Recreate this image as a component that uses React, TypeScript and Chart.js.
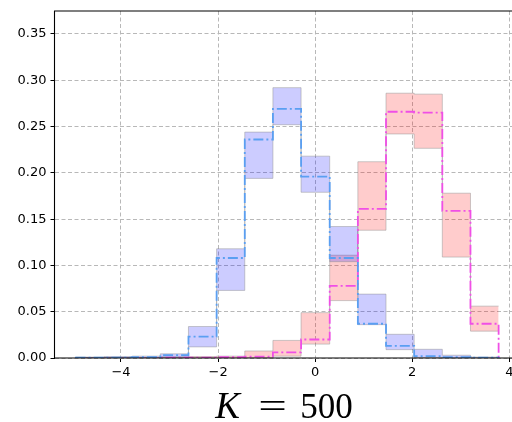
import React, { useEffect, useRef } from "react";
import { Chart, registerables } from "chart.js";

Chart.register(...registerables);

// Histogram bin edges (15 bins)
const binEdges = [-4.93, -4.35, -3.77, -3.19, -2.61, -2.03, -1.45, -0.87, -0.29, 0.3, 0.88, 1.46, 2.04, 2.62, 3.2, 3.78];

// Blue series: mean and band
const blueMean = [0.0003, 0.0005, 0.001, 0.003, 0.023, 0.108, 0.236, 0.269, 0.196, 0.108, 0.037, 0.013, 0.002, 0.001, 0.0005];
const blueLow = [0, 0, 0.0003, 0.001, 0.012, 0.073, 0.194, 0.252, 0.179, 0.104, 0.036, 0.009, 0.0005, 0, 0];
const blueHigh = [0.001, 0.0015, 0.002, 0.0045, 0.034, 0.118, 0.244, 0.292, 0.218, 0.142, 0.069, 0.0256, 0.0094, 0.003, 0.001];

// Pink series: mean and band
const pinkMean = [0.0002, 0.0002, 0.0002, 0.0003, 0.0005, 0.0008, 0.0014, 0.006, 0.02, 0.078, 0.161, 0.266, 0.265, 0.159, 0.037];
const pinkLow = [0, 0, 0, 0, 0, 0, 0, 0.002, 0.015, 0.062, 0.138, 0.242, 0.2265, 0.109, 0.029];
const pinkHigh = [0.0005, 0.0005, 0.0005, 0.001, 0.0015, 0.002, 0.0076, 0.019, 0.049, 0.111, 0.212, 0.286, 0.285, 0.178, 0.056];

const xTickValues = [-4, -2, 0, 2, 4];
const yTickValues = [0, 0.05, 0.1, 0.15, 0.2, 0.25, 0.3, 0.35];
const titleParts = ["K", "=", "500"];

const X_MIN = -5.37;
const X_MAX = 4.138;
const Y_MIN = 0;
const Y_MAX = 0.3748;

function stepLine(vals: number[]) {
  const last = binEdges.length - 1;
  const pts: { x: number; y: number }[] = [{ x: binEdges[0], y: 0 }];
  vals.forEach((v, i) => pts.push({ x: binEdges[i], y: v }));
  pts.push({ x: binEdges[last], y: vals[vals.length - 1] });
  pts.push({ x: binEdges[last], y: 0 });
  return pts;
}

function bandLine(vals: number[]) {
  const last = binEdges.length - 1;
  const pts: { x: number; y: number }[] = [];
  vals.forEach((v, i) => pts.push({ x: binEdges[i], y: v }));
  pts.push({ x: binEdges[last], y: vals[vals.length - 1] });
  return pts;
}

const fmtX = (v: number) => (v < 0 ? "\u2212" + Math.abs(v) : String(v));

export default function App() {
  const ref = useRef<HTMLCanvasElement | null>(null);

  useEffect(() => {
    document.body.style.margin = "0";
    const canvas = ref.current!;
    const bandEdge = "rgba(140,140,140,0.45)";

    const framePlugin = {
      id: "frame",
      afterDatasetsDraw(chart: any) {
        const { ctx, chartArea: a } = chart;
        ctx.save();
        ctx.strokeStyle = "#000";
        ctx.lineWidth = 1.1;
        ctx.setLineDash([]);
        ctx.beginPath();
        ctx.moveTo(a.right, a.top);
        ctx.lineTo(a.left, a.top);
        ctx.lineTo(a.left, a.bottom);
        ctx.lineTo(a.right, a.bottom);
        ctx.lineTo(a.right, a.top);
        ctx.stroke();
        ctx.restore();
      },
      afterDraw(chart: any) {
        const { ctx, chartArea: a } = chart;
        const cx = (a.left + a.right) / 2;
        const base = 418;
        ctx.save();
        ctx.fillStyle = "#000";
        ctx.textAlign = "left";
        ctx.textBaseline = "alphabetic";
        ctx.font = 'italic 37px "Liberation Serif"';
        ctx.fillText(titleParts[0], cx - 70, base);
        ctx.font = '35px "Liberation Serif"';
        ctx.save();
        ctx.translate(cx - 27, base);
        ctx.scale(1.45, 1);
        ctx.fillText(titleParts[1], 0, 0);
        ctx.restore();
        ctx.fillText(titleParts[2], cx + 15, base);
        ctx.restore();
      },
    };

    const common = { stepped: "before", pointRadius: 0 };

    const chart = new Chart(canvas, {
      type: "line",
      data: {
        datasets: [
          {
            ...common,
            data: stepLine(blueMean),
            borderColor: "#5a9ff2",
            borderWidth: 1.8,
            borderDash: [10, 3, 2, 3],
            fill: false,
            order: 0,
          },
          {
            ...common,
            data: stepLine(pinkMean),
            borderColor: "#f04fe6",
            borderWidth: 1.8,
            borderDash: [10, 3, 2, 3],
            fill: false,
            order: 0,
          },
          {
            ...common,
            data: bandLine(blueLow),
            borderColor: bandEdge,
            borderWidth: 1,
            fill: false,
            order: 1,
          },
          {
            ...common,
            data: bandLine(blueHigh),
            borderColor: bandEdge,
            borderWidth: 1,
            fill: { target: 2 },
            backgroundColor: "rgba(0,0,255,0.2)",
            order: 1,
          },
          {
            ...common,
            data: bandLine(pinkLow),
            borderColor: bandEdge,
            borderWidth: 1,
            fill: false,
            order: 1,
          },
          {
            ...common,
            data: bandLine(pinkHigh),
            borderColor: bandEdge,
            borderWidth: 1,
            fill: { target: 4 },
            backgroundColor: "rgba(255,0,0,0.2)",
            order: 1,
          },
        ],
      },
      options: {
        animation: false,
        responsive: false,
        devicePixelRatio: 1,
        layout: { padding: { left: 0, top: 11, right: 24, bottom: 0 } },
        plugins: { legend: { display: false }, tooltip: { enabled: false }, title: { display: false } },
        scales: {
          x: {
            type: "linear",
            min: X_MIN,
            max: X_MAX,
            afterBuildTicks: (s: any) => {
              s.ticks = xTickValues.map((v) => ({ value: v }));
            },
            afterFit: (s: any) => {
              s.height = 64;
              s.paddingLeft = 0;
              s.paddingRight = 0;
            },
            border: { display: false, dash: [4, 2.5] },
            grid: {
              color: "#b8b8b8",
              lineWidth: 1,
              tickColor: "#000",
              tickLength: 4,
              tickWidth: 1,
              tickBorderDash: [],
            },
            ticks: {
              color: "#000",
              padding: 3,
              maxRotation: 0,
              autoSkip: false,
              font: { family: "DejaVu Sans", size: 13 },
              callback: (v: any) => fmtX(Number(v)),
            },
          },
          y: {
            type: "linear",
            min: Y_MIN,
            max: Y_MAX,
            afterBuildTicks: (s: any) => {
              s.ticks = yTickValues.map((v) => ({ value: v }));
            },
            afterFit: (s: any) => {
              s.width = 54.5;
              s.paddingTop = 0;
              s.paddingBottom = 0;
            },
            border: { display: false, dash: [4, 2.5] },
            grid: {
              color: "#b8b8b8",
              lineWidth: 1,
              tickColor: "#000",
              tickLength: 4,
              tickWidth: 1,
              tickBorderDash: [],
            },
            ticks: {
              color: "#000",
              padding: 4,
              autoSkip: false,
              font: { family: "DejaVu Sans", size: 13 },
              callback: (v: any) => Number(v).toFixed(2),
            },
          },
        },
      },
      plugins: [framePlugin],
    } as any);

    return () => chart.destroy();
  }, []);

  return (
    <div style={{ width: 512, height: 422, overflow: "hidden", position: "relative" }}>
      <canvas ref={ref} width={540} height={422} style={{ display: "block" }} />
    </div>
  );
}
